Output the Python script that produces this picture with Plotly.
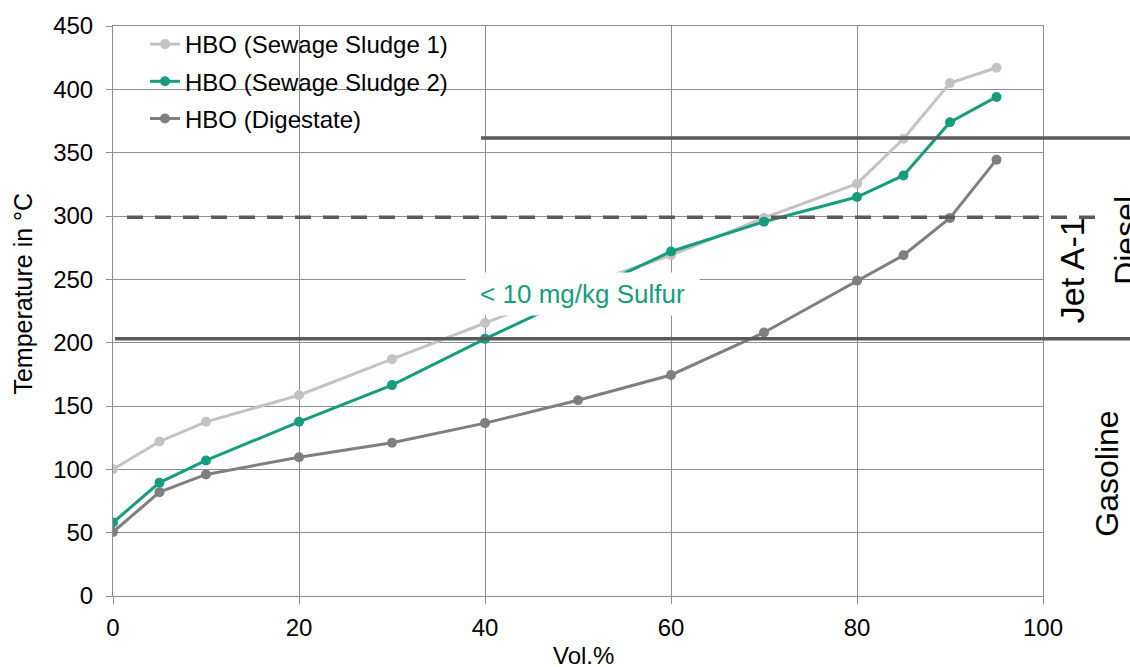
import plotly.graph_objects as go

vol = [0, 5, 10, 20, 30, 40, 50, 60, 70, 80, 85, 90, 95]
ss1 = [100, 122, 137.5, 158.5, 187, 215.5, 244, 269, 298.5, 325.5, 361, 405, 417]
ss2 = [58, 89.5, 107, 137.5, 166.5, 203, 237.5, 272, 295.5, 315, 332, 374, 394]
dig = [50.5, 82, 96, 109.5, 121, 136.5, 154.5, 174.5, 208, 249, 269, 298.5, 344.5]

series_names = ["HBO (Sewage Sludge 1)", "HBO (Sewage Sludge 2)", "HBO (Digestate)"]
series_vals = [ss1, ss2, dig]
series_colors = ["#c3c3c3", "#179c7d", "#7f7f7f"]

# reference limit lines (°C)
ref_gasoline_y = 203
ref_jet_y = 299
ref_diesel_y = 361.5
x_ticks = [0, 20, 40, 60, 80, 100]
y_ticks = [0, 50, 100, 150, 200, 250, 300, 350, 400, 450]

FONT = "Liberation Sans, Arial, sans-serif"
W, H = 1130, 667
ML, MR, MT, MB = 113, 87, 23, 71
PW = W - ML - MR
PH = H - MT - MB

def px2paper_x(px):
    return (px - ML) / PW

def px2paper_y(py):
    return (H - MB - py) / PH

fig = go.Figure()
for i, (name, vals, col) in enumerate(zip(series_names, series_vals, series_colors)):
    fig.add_trace(go.Scatter(
        x=vol, y=vals, mode="lines+markers", name=name,
        line=dict(color=col, width=3),
        marker=dict(color=col, size=10),
        legendgroup=f"g{i}",
    ))

gridc = "#8e8e8e"
fig.update_xaxes(range=[0, 100], tickvals=x_ticks, showgrid=True, gridcolor=gridc, gridwidth=1,
                 zeroline=False, showline=True, linecolor=gridc, linewidth=1, mirror=True,
                 ticks="outside", ticklen=7, tickcolor=gridc,
                 tickfont=dict(family=FONT, size=24, color="black"), ticklabelstandoff=3)
fig.update_yaxes(range=[0, 450], tickvals=y_ticks, showgrid=True, gridcolor=gridc, gridwidth=1,
                 zeroline=False, showline=True, linecolor=gridc, linewidth=1, mirror=True,
                 ticks="outside", ticklen=6, tickcolor=gridc,
                 tickfont=dict(family=FONT, size=24, color="black"), ticklabelstandoff=8)

linec = "#5a5a5a"
fig.add_shape(type="line", xref="paper", yref="y", x0=px2paper_x(115), x1=px2paper_x(W + 5),
              y0=ref_gasoline_y, y1=ref_gasoline_y, line=dict(color=linec, width=3.5))
fig.add_shape(type="line", xref="paper", yref="y", x0=px2paper_x(481), x1=px2paper_x(W + 5),
              y0=ref_diesel_y, y1=ref_diesel_y, line=dict(color=linec, width=3.5))
fig.add_shape(type="line", xref="paper", yref="y", x0=px2paper_x(127), x1=px2paper_x(1096),
              y0=ref_jet_y, y1=ref_jet_y, line=dict(color=linec, width=3.5, dash="16px,12px"))

fig.add_annotation(x=50.5, y=238.5, xref="x", yref="y", text="< 10 mg/kg Sulfur",
                   showarrow=False, font=dict(family=FONT, size=26, color="#179c7d"),
                   bgcolor="white", width=229, height=38, borderpad=2,
                   xanchor="center", yanchor="middle")

side = dict(xref="paper", yref="paper", textangle=-90, showarrow=False,
            xanchor="center", yanchor="middle")
fig.add_annotation(x=px2paper_x(1072), y=px2paper_y(268.5), text="Jet A-1",
                   font=dict(family=FONT, size=34, color="black"), **side)
fig.add_annotation(x=px2paper_x(1126), y=px2paper_y(239), text="Diesel",
                   font=dict(family=FONT, size=32, color="black"), **side)
fig.add_annotation(x=px2paper_x(1107), y=px2paper_y(473), text="Gasoline",
                   font=dict(family=FONT, size=32, color="black"), **side)

fig.add_annotation(x=px2paper_x(23), y=px2paper_y(292), text="Temperature in °C",
                   font=dict(family=FONT, size=25, color="black"), **side)
fig.add_annotation(x=px2paper_x(583), y=px2paper_y(640), xref="paper", yref="paper",
                   xanchor="center", yanchor="top", text="Vol.%", showarrow=False,
                   font=dict(family=FONT, size=24, color="black"))

fig.update_layout(
    width=W, height=H,
    margin=dict(l=ML, r=MR, t=MT, b=MB),
    paper_bgcolor="white", plot_bgcolor="white",
    font=dict(family=FONT, size=24, color="black"),
    legend=dict(x=px2paper_x(145), y=px2paper_y(19), xanchor="left", yanchor="top",
                bgcolor="rgba(0,0,0,0)", font=dict(family=FONT, size=24, color="black"),
                tracegroupgap=3, itemwidth=30),
    showlegend=True,
)
# white backing behind the legend (covers gridlines, below traces)
fig.add_shape(type="rect", xref="paper", yref="paper", layer="between",
              x0=px2paper_x(120), x1=px2paper_x(482), y0=px2paper_y(145), y1=px2paper_y(24),
              fillcolor="white", line=dict(width=0))

fig.write_html("out.html", config={"displayModeBar": False},
               post_script="document.body.style.margin='0';")
